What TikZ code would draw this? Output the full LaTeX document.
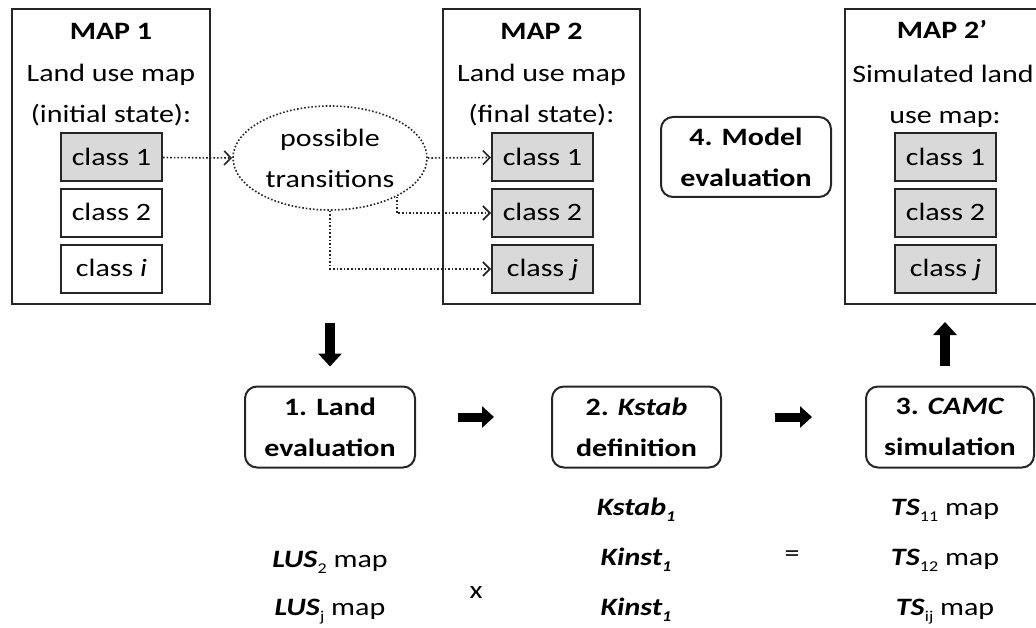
\documentclass[tikz,border=0pt]{standalone}
\usepackage{fontspec}
\setmainfont{Carlito}[FakeStretch=1.2]
\usetikzlibrary{arrows.meta,shapes.geometric}
\definecolor{linec}{HTML}{262626}
\definecolor{clsfill}{HTML}{D9D9D9}
\newcommand{\mysub}[1]{\raisebox{-6pt}{\fontsize{15}{15}\selectfont #1}}
\begin{document}
\begin{tikzpicture}[x=1pt,y=-1pt,
  every node/.style={font=\fontsize{25}{41}\selectfont, text=black},
  mapbox/.style={draw=linec, line width=2pt, inner sep=0pt, minimum width=198pt, minimum height=295pt},
  clsbox/.style={draw=linec, line width=2pt, inner sep=0pt, minimum width=101pt, minimum height=48pt, text height=16pt, text depth=0pt},
  clsgray/.style={clsbox, fill=clsfill},
  txt/.style={anchor=base, inner sep=0pt},
  rbox/.style={draw=linec, line width=2pt, rounded corners=12pt, inner sep=0pt, minimum width=170pt, minimum height=81pt, align=center},
  dotarr/.style={draw=linec, dotted, line width=1.6pt, -{Straight Barb[length=7pt,width=14pt,line width=1.6pt]}},
  blkarr/.style={draw=black, line width=10pt, -{Triangle[width=23pt,length=13pt]}}
]
\useasboundingbox (0,0) rectangle (1036,628);

% MAP 1
\node[mapbox] (m1) at (111,156.5) {};
\node[txt] (m1t) at (111,40) {\textbf{MAP 1}};
\node[txt] (m1a) at (111,82) {Land use map};
\node[txt] (m1b) at (111,123) {(initial state):};
\node[clsgray] (m1c1) at (111.5,157.5) {class 1};
\node[clsbox] (m1c2) at (111.5,213) {class 2};
\node[clsbox] (m1c3) at (111.5,269) {class \textit{i}};

% transitions ellipse
\node[ellipse, draw=linec, dotted, line width=1.6pt, minimum width=194pt, minimum height=104pt, inner sep=0pt, align=center] (el) at (330,158) {possible\\transitions};

% MAP 2
\node[mapbox, minimum width=197pt] (m2) at (541.5,156.5) {};
\node[txt] (m2t) at (541.5,40) {\textbf{MAP 2}};
\node[txt] (m2a) at (541.5,82) {Land use map};
\node[txt] (m2b) at (541.5,123) {(final state):};
\node[clsgray] (m2c1) at (542.5,157.5) {class 1};
\node[clsgray] (m2c2) at (542.5,213) {class 2};
\node[clsgray] (m2c3) at (542.5,269) {class \textit{j}};

% model evaluation
\node[rbox, minimum height=80pt] (me) at (746,157) {\textbf{4. Model}\\\textbf{evaluation}};

% MAP 2'
\node[mapbox, minimum width=200pt] (m2p) at (945,156.5) {};
\node[txt] (m2pt) at (942,39) {\textbf{MAP 2’}};
\node[txt] (m2pa) at (943,83) {Simulated land};
\node[txt] (m2pb) at (945,124) {use map:};
\node[clsgray] (m2pc1) at (945.5,157.5) {class 1};
\node[clsgray] (m2pc2) at (945.5,213) {class 2};
\node[clsgray] (m2pc3) at (945.5,269) {class \textit{j}};

% dotted transitions
\draw[dotarr] (m1c1.east) -- (el.west);
\draw[dotarr] (el.east) -- (m2c1.west);
\draw[dotarr] (el.-30) |- (m2c2.west);
\draw[dotarr] (el.south) |- (m2c3.west);

% bottom process boxes
\node[rbox] (b1) at (330,427) {\textbf{1. Land}\\\textbf{evaluation}};
\node[rbox, minimum width=169pt] (b2) at (636.5,427) {\textbf{2. \textit{Kstab}}\\\textbf{definition}};
\node[rbox, minimum width=168pt] (b3) at (950,427) {\textbf{3. \textit{CAMC}}\\\textbf{simulation}};

% block arrows
\draw[blkarr, shorten <=18pt, shorten >=19pt] (b1.north |- m1.south) -- (b1.north);
\draw[blkarr, line width=9pt, -{Triangle[width=21pt,length=12pt]}, shorten <=42pt, shorten >=57pt] ([yshift=10pt]b1.east) -- ([yshift=10pt]b2.west);
\draw[blkarr, line width=9pt, -{Triangle[width=21pt,length=12pt]}, shorten <=53pt, shorten >=53pt] ([yshift=10pt]b2.east) -- ([yshift=10pt]b3.west);
\draw[blkarr, shorten <=20pt, shorten >=17pt] (m2p.south |- b3.north) -- (m2p.south);

% bottom formulas
\node[txt] (lus2) at (330,567) {\textbf{\textit{LUS}}\mysub{2} map};
\node[txt] (lusj) at (330,615) {\textbf{\textit{LUS}}\mysub{j} map};
\node[txt] (times) at (476,598) {x};
\node[txt] (ks1) at (636,515) {\textbf{\textit{Kstab\mysub{1}}}};
\node[txt] (ki1) at (636,565) {\textbf{\textit{Kinst\mysub{1}}}};
\node[txt] (ki2) at (636,615) {\textbf{\textit{Kinst\mysub{1}}}};
\node[txt] (eq) at (792,561) {=};
\node[txt] (ts11) at (945,515) {\textbf{\textit{TS}}\mysub{11} map};
\node[txt] (ts12) at (945,565) {\textbf{\textit{TS}}\mysub{12} map};
\node[txt] (tsij) at (945,615) {\textbf{\textit{TS}}\mysub{ij} map};
\end{tikzpicture}
\end{document}
